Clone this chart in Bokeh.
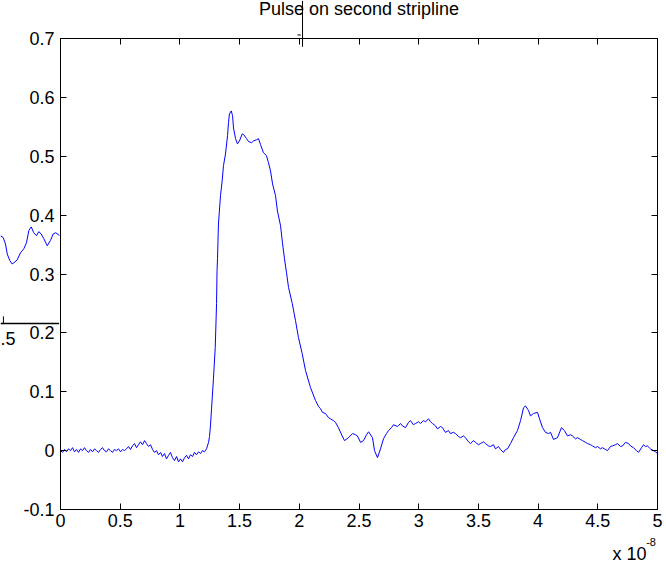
from bokeh.plotting import figure
from bokeh.models import Range1d, LinearAxis, FixedTicker, GridBox, Column
from bokeh.core.properties import value
from bokeh.embed import file_html
from bokeh.resources import INLINE

# time in units of 1e-8 s
t = [0.000, 0.017, 0.034, 0.050, 0.067, 0.084, 0.101, 0.117, 0.134, 0.151, 0.168, 0.184, 0.201, 0.218, 0.235,
     0.251, 0.268, 0.285, 0.302, 0.318, 0.335, 0.352, 0.369, 0.385, 0.402, 0.419, 0.436, 0.452, 0.469, 0.486,
     0.503, 0.519, 0.536, 0.553, 0.570, 0.586, 0.603, 0.620, 0.637, 0.653, 0.670, 0.687, 0.704, 0.720, 0.737,
     0.754, 0.771, 0.787, 0.804, 0.821, 0.838, 0.854, 0.871, 0.888, 0.905, 0.921, 0.938, 0.955, 0.972, 0.988,
     1.005, 1.022, 1.039, 1.055, 1.072, 1.089, 1.106, 1.122, 1.139, 1.156, 1.173, 1.189, 1.206, 1.223, 1.240,
     1.248, 1.256, 1.265, 1.281, 1.296, 1.307, 1.311, 1.315, 1.323, 1.340, 1.354, 1.365, 1.382, 1.399, 1.407,
     1.415, 1.430, 1.441, 1.449, 1.466, 1.482, 1.499, 1.522, 1.533, 1.558, 1.575, 1.600, 1.616, 1.642, 1.658,
     1.675, 1.700, 1.725, 1.742, 1.759, 1.776, 1.801, 1.817, 1.843, 1.859, 1.876, 1.893, 1.910, 1.941, 1.968,
     1.993, 2.024, 2.052, 2.094, 2.136, 2.161, 2.178, 2.194, 2.219, 2.245, 2.261, 2.286, 2.303, 2.328, 2.359,
     2.379, 2.412, 2.446, 2.471, 2.487, 2.513, 2.538, 2.563, 2.580, 2.613, 2.630, 2.655, 2.680, 2.705, 2.730,
     2.747, 2.772, 2.789, 2.822, 2.848, 2.864, 2.889, 2.915, 2.931, 2.956, 2.973, 2.998, 3.015, 3.040, 3.057,
     3.082, 3.099, 3.116, 3.141, 3.157, 3.183, 3.199, 3.224, 3.250, 3.266, 3.291, 3.308, 3.333, 3.350, 3.375,
     3.392, 3.417, 3.434, 3.459, 3.476, 3.501, 3.518, 3.543, 3.559, 3.585, 3.601, 3.626, 3.643, 3.668, 3.685,
     3.710, 3.727, 3.744, 3.769, 3.794, 3.827, 3.853, 3.878, 3.894, 3.920, 3.936, 3.961, 3.995, 4.012, 4.037,
     4.062, 4.087, 4.104, 4.129, 4.162, 4.196, 4.221, 4.246, 4.271, 4.288, 4.313, 4.330, 4.355, 4.372, 4.397,
     4.414, 4.439, 4.456, 4.481, 4.497, 4.523, 4.539, 4.564, 4.581, 4.606, 4.623, 4.648, 4.665, 4.690, 4.707,
     4.732, 4.757, 4.774, 4.799, 4.824, 4.841, 4.866, 4.883, 4.899, 4.916, 4.941, 4.966, 4.983, 5.000]

v = [0.000, -0.003, 0.002, -0.002, 0.003, 0.000, 0.005, -0.002, 0.002, -0.003, 0.003, 0.000, 0.005, 0.000, -0.003,
     0.002, -0.002, 0.003, 0.000, -0.003, 0.002, 0.005, 0.000, -0.002, 0.003, 0.000, -0.003, 0.002, 0.000, 0.003,
     -0.002, 0.002, 0.000, 0.003, 0.007, 0.002, 0.008, 0.012, 0.005, 0.010, 0.015, 0.010, 0.017, 0.012, 0.007,
     0.010, 0.002, -0.003, 0.000, -0.007, -0.003, -0.010, -0.005, -0.014, -0.008, -0.003, -0.012, -0.017, -0.010, -0.019,
     -0.014, -0.019, -0.012, -0.008, -0.014, -0.007, -0.010, -0.003, -0.007, -0.002, -0.005, 0.000, -0.002, 0.003, 0.014,
     0.024, 0.042, 0.071, 0.122, 0.175, 0.250, 0.306, 0.326, 0.385, 0.433, 0.458, 0.484, 0.504, 0.535, 0.557,
     0.572, 0.577, 0.569, 0.548, 0.530, 0.521, 0.526, 0.538, 0.537, 0.530, 0.525, 0.523, 0.526, 0.528, 0.530,
     0.520, 0.506, 0.501, 0.489, 0.475, 0.453, 0.433, 0.407, 0.382, 0.353, 0.326, 0.302, 0.277, 0.250, 0.221,
     0.192, 0.165, 0.136, 0.107, 0.085, 0.075, 0.071, 0.065, 0.063, 0.056, 0.054, 0.051, 0.048, 0.039, 0.025,
     0.017, 0.022, 0.029, 0.027, 0.025, 0.014, 0.017, 0.027, 0.032, 0.022, 0.000, -0.012, 0.003, 0.020, 0.029,
     0.034, 0.039, 0.044, 0.041, 0.046, 0.042, 0.039, 0.048, 0.051, 0.044, 0.046, 0.049, 0.046, 0.051, 0.049,
     0.054, 0.049, 0.046, 0.042, 0.037, 0.041, 0.039, 0.031, 0.034, 0.029, 0.031, 0.029, 0.024, 0.022, 0.025,
     0.022, 0.015, 0.012, 0.017, 0.014, 0.010, 0.012, 0.015, 0.012, 0.008, 0.007, 0.010, 0.003, 0.007, 0.002,
     -0.003, 0.002, 0.003, 0.012, 0.022, 0.034, 0.051, 0.073, 0.076, 0.068, 0.059, 0.063, 0.065, 0.054, 0.039,
     0.031, 0.029, 0.031, 0.019, 0.022, 0.039, 0.034, 0.025, 0.027, 0.025, 0.020, 0.022, 0.019, 0.017, 0.014,
     0.012, 0.010, 0.008, 0.005, 0.007, 0.003, 0.005, 0.002, 0.000, 0.007, 0.008, 0.010, 0.012, 0.007, 0.008,
     0.014, 0.012, 0.008, 0.005, 0.000, -0.003, 0.005, 0.010, 0.007, 0.008, 0.003, 0.000, -0.002, -0.005]

x_ticks = [0, 0.5, 1, 1.5, 2, 2.5, 3, 3.5, 4, 4.5, 5]
x_tick_labels = ["0", "0.5", "1", "1.5", "2", "2.5", "3", "3.5", "4", "4.5", "5"]
y_ticks = [-0.1, 0, 0.1, 0.2, 0.3, 0.4, 0.5, 0.6, 0.7]
y_tick_labels = ["-0.1", "0", "0.1", "0.2", "0.3", "0.4", "0.5", "0.6", "0.7"]

title_text = ["Pulse on second stripline"]
title_t = [2.5]
title_v = [0.7505]
x_scale_base = ["x 10"]
x_scale_exp = ["-8"]
x_scale_t = [4.623]
x_scale_v = [-0.175]
x_exp_t = [4.905]
x_exp_v = [-0.156]

# stray fragment of another window overlapping the left edge (in main-axis units)
frag_t = [-0.503, -0.480, -0.461, -0.446, -0.425, -0.405, -0.391, -0.363, -0.335, -0.307, -0.285, -0.265,
          -0.245, -0.224, -0.201, -0.182, -0.162, -0.140, -0.111, -0.084, -0.061, -0.042, -0.023, -0.011]
frag_v = [0.365, 0.362, 0.351, 0.334, 0.323, 0.317, 0.319, 0.324, 0.336, 0.343, 0.353, 0.374,
          0.380, 0.370, 0.365, 0.372, 0.368, 0.360, 0.348, 0.357, 0.368, 0.370, 0.368, 0.365]
frag_axis_t = [-0.503, -0.012]
frag_axis_v = [0.216, 0.216]
frag_tick_t = [-0.478, -0.478]
frag_tick_v = [0.216, 0.228]
frag_label_t = [-0.503]
frag_label_v = [0.190]
frag_label = [".5"]
cursor_t = [2.027, 2.027]
cursor_v = [0.764, 0.686]
dash_t = [1.985, 2.012]
dash_v = [0.706, 0.706]

FONT = "Liberation Sans"
FS = "18px"

W, H = 666, 565
L, R, T, B = 60, 9, 38, 56

p = figure(width=W, height=H, output_backend="svg", toolbar_location=None,
           x_range=Range1d(0, 5), y_range=Range1d(-0.1, 0.7),
           min_border_left=L, min_border_right=R, min_border_top=T, min_border_bottom=B,
           background_fill_color="white", border_fill_color="white")
p.xgrid.visible = False
p.ygrid.visible = False
p.outline_line_color = "black"

p.line(t, v, line_color="#0000ff", line_width=1)

bottom = p.below[0]
left = p.left[0]
top = LinearAxis()
right = LinearAxis()
p.add_layout(top, "above")
p.add_layout(right, "right")

for ax, ticks, labels, standoff in [(bottom, x_ticks, x_tick_labels, 4), (top, x_ticks, None, 0),
                                    (left, y_ticks, y_tick_labels, 6), (right, y_ticks, None, 0)]:
    ax.ticker = FixedTicker(ticks=ticks)
    ax.major_tick_in = 6
    ax.major_tick_out = 0
    ax.minor_tick_in = 0
    ax.minor_tick_out = 0
    ax.axis_line_color = "black"
    ax.major_tick_line_color = "black"
    ax.major_label_text_font = FONT
    ax.major_label_text_color = "black"
    ax.major_label_standoff = standoff
    if labels is None:
        ax.major_label_overrides = {tk: " " for tk in ticks}
        ax.major_label_text_font_size = "1px"
    else:
        ax.major_label_overrides = {tk: lb for tk, lb in zip(ticks, labels)}
        ax.major_label_text_font_size = FS

# transparent overlay covering the whole window, for the texts and stray
# fragments that lie outside the axes box
ppx = (W - L - R) / 5.0
ppy = (H - T - B) / 0.8
x0 = -L / ppx
x1 = 5.0 + R / ppx
y1 = 0.7 + T / ppy
y0 = -0.1 - B / ppy
ov = figure(width=W, height=H, output_backend="svg", toolbar_location=None,
            x_range=Range1d(x0, x1), y_range=Range1d(y0, y1),
            x_axis_type=None, y_axis_type=None, min_border=0,
            background_fill_alpha=0, border_fill_alpha=0, outline_line_color=None)
ov.xgrid.visible = False
ov.ygrid.visible = False
ov.text(title_t, title_v, text=title_text, text_align="center", text_baseline="middle",
        text_font=value(FONT), text_font_size=FS, text_color="black")
ov.line(frag_t, frag_v, line_color="#0000ff", line_width=1)
ov.line(frag_axis_t, frag_axis_v, line_color="black", line_width=1.5)
ov.line(frag_tick_t, frag_tick_v, line_color="black", line_width=1)
ov.text(frag_label_t, frag_label_v, text=frag_label, text_align="left", text_baseline="middle",
        text_font=value(FONT), text_font_size=FS, text_color="black")
ov.line(cursor_t, cursor_v, line_color="black", line_width=1)
ov.line(dash_t, dash_v, line_color="black", line_width=1)
ov.text(x_scale_t, x_scale_v, text=x_scale_base, text_align="left", text_baseline="middle",
        text_font=value(FONT), text_font_size=FS, text_color="black")
ov.text(x_exp_t, x_exp_v, text=x_scale_exp, text_align="left", text_baseline="middle",
        text_font=value(FONT), text_font_size="11px", text_color="black")

layout = GridBox(children=[(p, 0, 0), (Column(children=[ov]), 0, 0)])

open("out.html", "w").write(file_html(layout, INLINE))
